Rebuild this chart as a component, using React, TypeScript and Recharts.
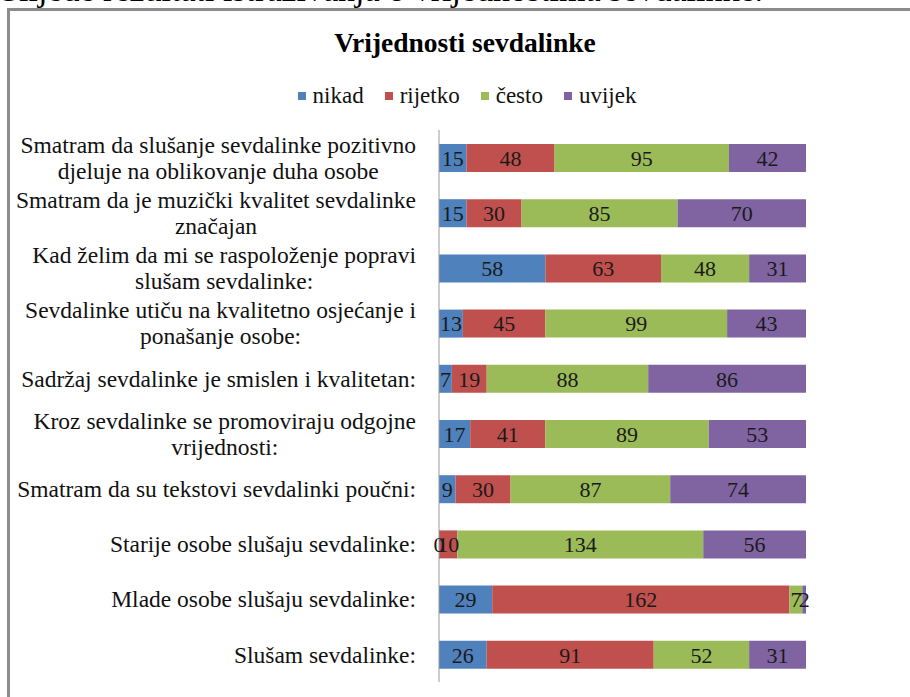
import React from 'react';
import { BarChart, Bar, XAxis, YAxis, LabelList } from 'recharts';

const FONT = "'Liberation Serif', 'Times New Roman', serif";

// categories, top to bottom
const categories = [
  'Smatram da slušanje sevdalinke pozitivno\ndjeluje na oblikovanje duha osobe',
  'Smatram da je muzički kvalitet sevdalinke\nznačajan',
  'Kad želim da mi se raspoloženje popravi\nslušam sevdalinke:',
  'Sevdalinke utiču na kvalitetno osjećanje i\nponašanje osobe:',
  'Sadržaj sevdalinke je smislen i kvalitetan:',
  'Kroz sevdalinke se promoviraju odgojne\nvrijednosti:',
  'Smatram da su tekstovi sevdalinki poučni:',
  'Starije osobe slušaju sevdalinke:',
  'Mlade osobe slušaju sevdalinke:',
  'Slušam sevdalinke:',
];

const nikad = [15, 15, 58, 13, 7, 17, 9, 0, 29, 26];
const rijetko = [48, 30, 63, 45, 19, 41, 30, 10, 162, 91];
const cesto = [95, 85, 48, 99, 88, 89, 87, 134, 7, 52];
const uvijek = [42, 70, 31, 43, 86, 53, 74, 56, 2, 31];

const seriesKeys = ['nikad', 'rijetko', 'cesto', 'uvijek'];
const seriesNames = ['nikad', 'rijetko', 'često', 'uvijek'];
const colors = ['#4F81BD', '#C0504D', '#9BBB59', '#8064A2'];

const data = categories.map((name, i) => ({
  name,
  nikad: nikad[i],
  rijetko: rijetko[i],
  cesto: cesto[i],
  uvijek: uvijek[i],
}));

const LABEL_SIZE = 23.5;
const LINE_H = 26;

let ctx: CanvasRenderingContext2D | null = null;
function measure(text: string, size: number) {
  if (!ctx) ctx = document.createElement('canvas').getContext('2d');
  if (!ctx) return text.length * size * 0.45;
  ctx.font = `${size}px ${FONT}`;
  return ctx.measureText(text).width;
}

// multi-line labels: block right-aligned to the axis, lines centred inside it
function CategoryTick({ x, y, payload }: any) {
  const lines = String(payload.value).split('\n');
  const w = Math.max(...lines.map((l) => measure(l, LABEL_SIZE)));
  const cx = x - 15 - w / 2;
  const top = y - ((lines.length - 1) * LINE_H) / 2;
  return (
    <text textAnchor="middle" fontFamily={FONT} fontSize={LABEL_SIZE} fill="#111">
      {lines.map((l, i) => (
        <tspan key={i} x={cx} y={top + i * LINE_H} dy="0.35em">
          {l}
        </tspan>
      ))}
    </text>
  );
}

// value label in the middle of each segment; a zero segment gets its label at the segment start
function ValueLabel(props: any) {
  const vb = props.viewBox || props;
  const { x, y, width, height } = vb;
  if (x == null || y == null) return null;
  const w = props.value === 0 ? 0 : width || 0;
  return (
    <text
      x={x + w / 2}
      y={y + (height || 0) / 2}
      dy="0.35em"
      textAnchor="middle"
      fontFamily={FONT}
      fontSize={22}
      fill="#1a1a1a"
    >
      {props.value}
    </text>
  );
}

export default function App() {
  return (
    <div style={{ position: 'absolute', left: 0, top: 0, width: 910, height: 697, overflow: 'hidden', background: '#fff' }}>
      {/* cropped caption line above the chart frame */}
      <svg width={910} height={20} style={{ position: 'absolute', left: 0, top: 0 }}>
        <text x={763} y={1} textAnchor="end" fontFamily={FONT} fontSize={34} fill="#000">
          Slijede rezultati istraživanja o vrijednostima sevdalinke.
        </text>
      </svg>
      <div style={{ position: 'absolute', left: 7, top: 8, width: 940, height: 720, border: '3px solid #8c8c8c', boxSizing: 'border-box' }} />

      <div style={{ position: 'absolute', left: 0, top: 28, width: 930, textAlign: 'center', fontFamily: FONT, fontSize: 27.5, fontWeight: 'bold', lineHeight: '30px', color: '#000' }}>
        Vrijednosti sevdalinke
      </div>

      <div style={{ position: 'absolute', left: 0, top: 82, width: 934, display: 'flex', justifyContent: 'center', alignItems: 'center', fontFamily: FONT, fontSize: 23, lineHeight: '28px', color: '#111' }}>
        {seriesNames.map((n, i) => (
          <div key={n} style={{ display: 'flex', alignItems: 'center', marginRight: i < 3 ? 21 : 0 }}>
            <span style={{ display: 'inline-block', width: 8, height: 8, background: colors[i], marginRight: 7 }} />
            <span>{n}</span>
          </div>
        ))}
      </div>

      <div style={{ position: 'absolute', left: 0, top: 0 }}>
        <BarChart
          width={910}
          height={697}
          data={data}
          layout="vertical"
          margin={{ top: 130, right: 104, bottom: 15, left: 0 }}
        >
          <XAxis type="number" domain={[0, 200]} hide />
          <YAxis
            type="category"
            dataKey="name"
            width={439}
            tickLine={false}
            axisLine={{ stroke: '#9a9a9a' }}
            tick={<CategoryTick />}
            interval={0}
          />
          {seriesKeys.map((k, i) => (
            <Bar
              key={k}
              dataKey={k}
              name={seriesNames[i]}
              stackId="a"
              fill={colors[i]}
              barSize={28}
              minPointSize={1}
              isAnimationActive={false}
            >
              <LabelList dataKey={k} position="center" content={<ValueLabel />} />
            </Bar>
          ))}
        </BarChart>
      </div>
    </div>
  );
}
